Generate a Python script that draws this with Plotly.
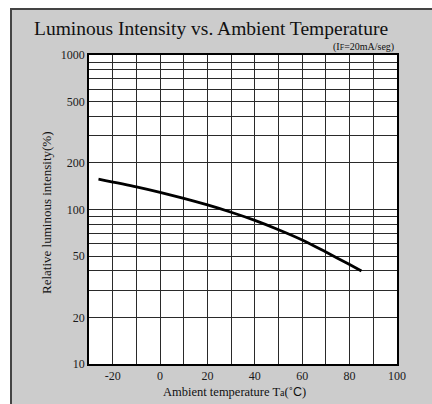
import plotly.graph_objects as go

# Data
temps = [-26, -10, 0, 10, 20, 30, 40, 50, 60, 70, 80, 85]
intensity = [157, 140, 129, 118, 107, 96, 85, 74, 63.5, 53, 44, 40]

x_ticks = [-20, 0, 20, 40, 60, 80, 100]
x_minor = [-20, -10, 0, 10, 20, 30, 40, 50, 60, 70, 80, 90]
y_ticks = [10, 20, 50, 100, 200, 500, 1000]
y_minor = [30, 40, 60, 70, 80, 90, 300, 400, 600, 700, 800, 900]

title_text = "Luminous Intensity vs. Ambient Temperature"
cond_text = "(I<span style='font-size:8px'>F</span>=20mA/seg)"
x_title = "Ambient temperature T<span style='font-size:10px'>a</span>(˚<span style='font-family:Liberation Sans'>C</span>)"
y_title = "Relative luminous intensity(%)"

SERIF = "Liberation Serif, Times New Roman, serif"

fig = go.Figure()
fig.add_trace(go.Scatter(
    x=temps, y=intensity, mode="lines",
    line=dict(color="black", width=2.8, shape="spline", smoothing=0.8),
    hoverinfo="skip", showlegend=False,
))

L, R, T, B = 89, 35, 55, 40
W, H = 432, 404
pw, ph = W - L - R, H - T - B

def px2paper_x(px):
    return (px - L) / pw

def py2paper_y(py):
    return (H - B - py) / ph

grid_color = "#2a2a2a"

fig.update_layout(
    width=W, height=H,
    margin=dict(l=L, r=R, t=T, b=B),
    paper_bgcolor="white",
    plot_bgcolor="white",
    font=dict(family=SERIF, color="#1a1a1a", size=11),
    showlegend=False,
    xaxis=dict(
        range=[-30, 100], tickmode="array", tickvals=x_ticks,
        ticktext=[str(v) for v in x_ticks],
        showgrid=False, zeroline=False,
        showline=True, linecolor="black", linewidth=1.5, mirror=True,
        ticks="", tickfont=dict(family=SERIF, size=12, color="#1a1a1a"),
        minor=dict(tickmode="array", tickvals=x_minor, showgrid=True,
                   gridcolor=grid_color, gridwidth=1, ticks=""),
        fixedrange=True,
    ),
    yaxis=dict(
        type="log", range=[1, 3], tickmode="array", tickvals=y_ticks,
        ticktext=[str(v) for v in y_ticks],
        showgrid=True, gridcolor=grid_color, gridwidth=1, zeroline=False,
        showline=True, linecolor="black", linewidth=1.5, mirror=True,
        ticks="", tickfont=dict(family=SERIF, size=12, color="#1a1a1a"),
        minor=dict(tickmode="array", tickvals=y_minor, showgrid=True,
                   gridcolor=grid_color, gridwidth=1, ticks=""),
        fixedrange=True,
    ),
    shapes=[
        dict(type="rect", xref="paper", yref="paper", layer="below",
             x0=px2paper_x(11), x1=px2paper_x(440), y0=py2paper_y(412), y1=py2paper_y(9),
             fillcolor="#cccccc", line=dict(color="#444444", width=2)),
        dict(type="rect", xref="x domain", yref="y domain", layer="below",
             x0=0, x1=1, y0=0, y1=1, fillcolor="white", line=dict(width=0)),
    ],
    annotations=[
        dict(text=title_text, xref="paper", yref="paper",
             x=px2paper_x(211), y=py2paper_y(29), xanchor="center", yanchor="middle",
             showarrow=False, font=dict(family=SERIF, size=19.5, color="#111111")),
        dict(text=cond_text, xref="paper", yref="paper",
             x=px2paper_x(396), y=py2paper_y(47), xanchor="right", yanchor="middle",
             showarrow=False, font=dict(family=SERIF, size=10, color="#111111")),
        dict(text=x_title, xref="paper", yref="paper",
             x=px2paper_x(234), y=py2paper_y(392), xanchor="center", yanchor="middle",
             showarrow=False, font=dict(family=SERIF, size=12.5, color="#111111")),
        dict(text=y_title, xref="paper", yref="paper", textangle=-90,
             x=px2paper_x(47), y=py2paper_y(213), xanchor="center", yanchor="middle",
             showarrow=False, font=dict(family=SERIF, size=13, color="#111111")),
    ],
)

fig.write_html("out.html", config={"displayModeBar": False},
               post_script="document.body.style.margin='0';document.body.style.overflow='hidden';")
